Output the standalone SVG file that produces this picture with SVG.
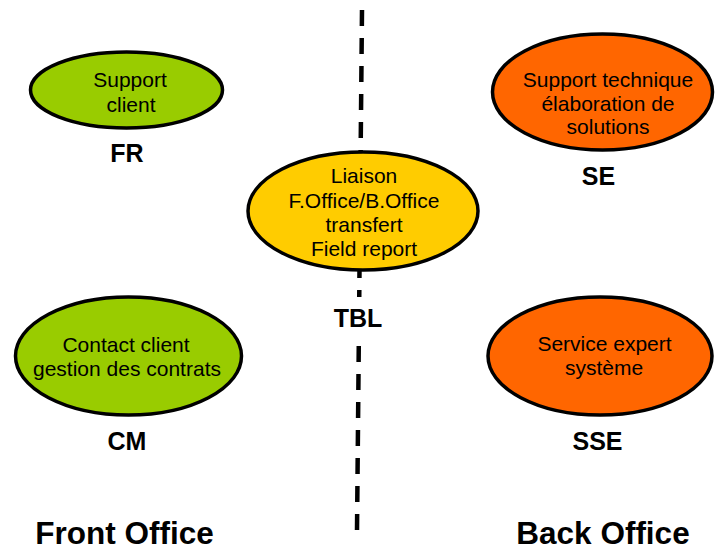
<svg xmlns="http://www.w3.org/2000/svg" width="715" height="551" viewBox="0 0 715 551">
<style>
.node{stroke:#000;stroke-width:3.5}
.green{fill:#99CC00}
.orange{fill:#FF6600}
.yellow{fill:#FFCC00}
.t{font-family:"Liberation Sans",Arial,sans-serif;font-size:21px;fill:#000;text-anchor:middle}
.lbl{font-family:"Liberation Sans",Arial,sans-serif;font-size:25px;font-weight:bold;fill:#000;text-anchor:middle}
.big{font-family:"Liberation Sans",Arial,sans-serif;font-size:31.5px;font-weight:bold;fill:#000;text-anchor:middle}
.sep{stroke:#000;stroke-width:4.5;stroke-dasharray:16 12;fill:none}
</style>
<rect width="715" height="551" fill="#fff"/>
<g id="connectors">
<line class="sep" x1="362" y1="10" x2="357" y2="530"/>
</g>
<g id="FR">
<ellipse class="node green" cx="126.5" cy="90" rx="96" ry="38"/>
<text class="t" x="130" y="87">Support</text>
<text class="t" x="131" y="112">client</text>
<text class="lbl" x="127" y="162">FR</text>
</g>
<g id="SE">
<ellipse class="node orange" cx="602.5" cy="92" rx="110" ry="58"/>
<text class="t" x="608" y="87">Support technique</text>
<text class="t" x="608" y="111">élaboration de</text>
<text class="t" x="608" y="134">solutions</text>
<text class="lbl" x="598.5" y="185">SE</text>
</g>
<g id="TBL">
<ellipse class="node yellow" cx="363" cy="211" rx="115" ry="59"/>
<text class="t" x="364" y="183">Liaison</text>
<text class="t" x="364" y="208">F.Office/B.Office</text>
<text class="t" x="364" y="232">transfert</text>
<text class="t" x="364" y="256">Field report</text>
<rect x="328" y="297" width="62" height="48" fill="#fff"/>
<text class="lbl" x="358" y="327">TBL</text>
</g>
<g id="CM">
<ellipse class="node green" cx="128.5" cy="356" rx="113" ry="59"/>
<text class="t" x="126" y="352">Contact client</text>
<text class="t" x="127" y="376">gestion des contrats</text>
<text class="lbl" x="127" y="450">CM</text>
</g>
<g id="SSE">
<ellipse class="node orange" cx="600" cy="356" rx="112" ry="59"/>
<text class="t" x="604.5" y="351">Service expert</text>
<text class="t" x="604" y="375">système</text>
<text class="lbl" x="597.5" y="450">SSE</text>
</g>
<g id="FrontOffice">
<text class="big" x="124.5" y="544">Front Office</text>
</g>
<g id="BackOffice">
<text class="big" x="603" y="544">Back Office</text>
</g>
</svg>
